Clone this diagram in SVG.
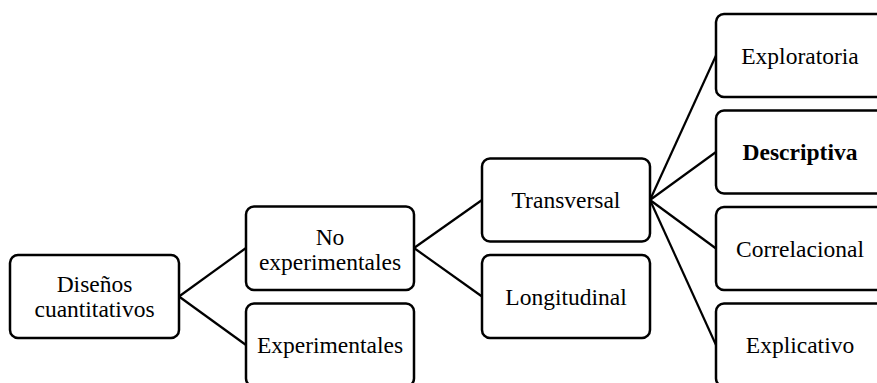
<svg xmlns="http://www.w3.org/2000/svg" width="877" height="383" viewBox="0 0 877 383">
<style>
.box{fill:#fff;stroke:#000;stroke-width:2.5}
.lbl{font-family:"Liberation Serif","Times New Roman",serif;font-size:23.5px;fill:#000;text-anchor:middle}
.b{font-weight:bold}
.con{stroke:#000;stroke-width:2.2;fill:none}
</style>
<rect width="877" height="383" fill="#fff"/>
<g id="connectors">
<line class="con" x1="179" y1="296.5" x2="246" y2="248"/>
<line class="con" x1="179" y1="296.5" x2="246" y2="345"/>
<line class="con" x1="414" y1="248" x2="482" y2="200"/>
<line class="con" x1="414" y1="248" x2="482" y2="296.5"/>
<line class="con" x1="650" y1="200" x2="716" y2="55.5"/>
<line class="con" x1="650" y1="200" x2="716" y2="152"/>
<line class="con" x1="650" y1="200" x2="716" y2="248.5"/>
<line class="con" x1="650" y1="200" x2="716" y2="345"/>
</g>
<g id="disenos">
<rect class="box" x="10" y="255" width="169" height="83" rx="8"/>
<text class="lbl" x="94.5" y="292">Diseños</text>
<text class="lbl" x="94.5" y="317">cuantitativos</text>
</g>
<g id="no-experimentales">
<rect class="box" x="246" y="206.5" width="168" height="83.5" rx="8"/>
<text class="lbl" x="330" y="245">No</text>
<text class="lbl" x="330" y="269.5">experimentales</text>
</g>
<g id="experimentales">
<rect class="box" x="246" y="303.5" width="168" height="83" rx="8"/>
<text class="lbl" x="330" y="353">Experimentales</text>
</g>
<g id="transversal">
<rect class="box" x="482" y="158.5" width="168" height="83" rx="8"/>
<text class="lbl" x="566" y="208">Transversal</text>
</g>
<g id="longitudinal">
<rect class="box" x="482" y="255" width="168" height="83" rx="8"/>
<text class="lbl" x="566" y="304.5">Longitudinal</text>
</g>
<g id="exploratoria">
<rect class="box" x="716" y="14" width="168" height="83" rx="8"/>
<text class="lbl" x="800" y="63.5">Exploratoria</text>
</g>
<g id="descriptiva">
<rect class="box" x="716" y="110.5" width="168" height="83" rx="8"/>
<text class="lbl b" x="800" y="160">Descriptiva</text>
</g>
<g id="correlacional">
<rect class="box" x="716" y="207" width="168" height="83" rx="8"/>
<text class="lbl" x="800" y="256.5">Correlacional</text>
</g>
<g id="explicativo">
<rect class="box" x="716" y="303.5" width="168" height="83" rx="8"/>
<text class="lbl" x="800" y="353">Explicativo</text>
</g>
</svg>
